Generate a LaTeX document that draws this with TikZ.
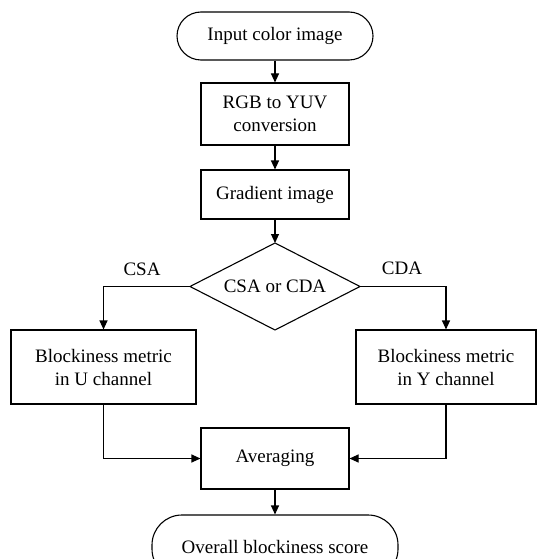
\documentclass[tikz,border=0pt]{standalone}
\usepackage{fontspec}
\setmainfont{Liberation Serif}
\usetikzlibrary{shapes.geometric,arrows.meta}
\begin{document}
\begin{tikzpicture}[x=1pt,y=-1pt,
  every node/.style={font=\fontsize{19}{23}\selectfont},
  procbox/.style={draw,line width=1.1pt,rectangle,align=center,inner sep=0pt},
  termbox/.style={draw,line width=1.1pt,rectangle,rounded corners=24pt,inner sep=0pt},
  decline/.style={draw,line width=1.1pt,line join=miter},
  conn/.style={line width=1.1pt,-{Triangle[length=9pt,width=8pt]}},
  lbl/.style={inner sep=0pt}]
\useasboundingbox (0,0) rectangle (537,559);
\node[termbox,minimum width=196pt,minimum height=48pt] (start) at (275,36) {Input color image};
\node[procbox,minimum width=148pt,minimum height=62pt] (rgb) at (275,114) {RGB to YUV\\conversion};
\node[procbox,minimum width=148pt,minimum height=49pt] (grad) at (275,194.5) {Gradient image};
\coordinate (dN) at (275,243);
\coordinate (dS) at (275,330);
\coordinate (dW) at (190,286.5);
\coordinate (dE) at (360,286.5);
\draw[decline] (dN) -- (dE) -- (dS) -- (dW) -- cycle;
\node[lbl] (dec) at (275,286.5) {CSA or CDA};
\node[procbox,minimum width=185pt,minimum height=74pt] (left) at (103.5,367) {Blockiness metric\\in U channel};
\node[procbox,minimum width=180pt,minimum height=74pt] (right) at (446,367) {Blockiness metric\\in Y channel};
\node[procbox,minimum width=148pt,minimum height=61pt] (avg) at (275,458.5) {Averaging};
\node[termbox,minimum width=246pt,minimum height=64pt,rounded corners=30pt] (end) at (275,547) {Overall blockiness score};
\node[lbl] (csa) at (142,269) {CSA};
\node[lbl] (cda) at (402,268) {CDA};
\draw[conn] (start) -- (rgb);
\draw[conn] (rgb) -- (grad);
\draw[conn] (grad) -- (dN);
\draw[conn] (dW) -| (left.north);
\draw[conn] (dE) -| (right.north);
\draw[conn] (left.south) |- (avg.west);
\draw[conn] (right.south) |- (avg.east);
\draw[conn] (avg) -- (end);
\end{tikzpicture}
\end{document}
